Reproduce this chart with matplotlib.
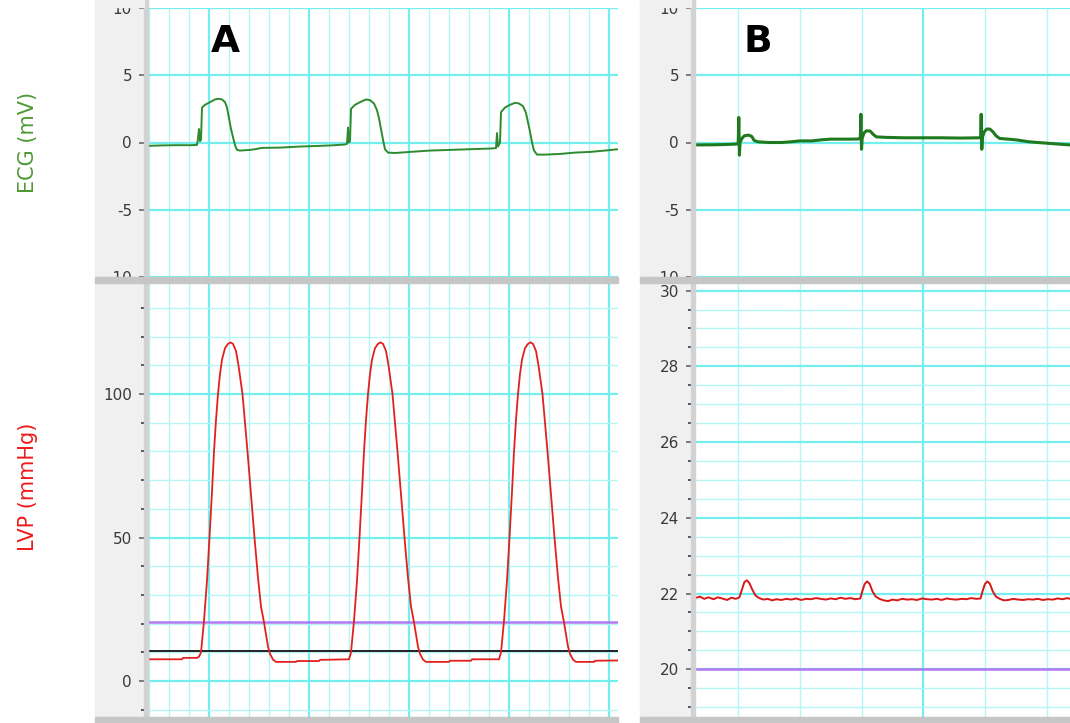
import matplotlib
matplotlib.use('Agg')
import matplotlib.pyplot as plt
from matplotlib.patches import Rectangle
from matplotlib.ticker import MultipleLocator, FixedLocator

plt.rcParams['axes.unicode_minus'] = False

# ---- panel A (time in ms) ----
ecgA_t = [-61, -49, -34, -19, -12, -11, -10, -9, -8, -7, -4, 1, 6, 10, 13, 16, 18, 20, 22, 24,
          26, 28, 31, 41, 46, 53, 71, 91, 111, 126, 136, 138, 139, 140, 141, 142, 146, 151, 157,
          161, 165, 168, 170, 172, 174, 176, 179, 186, 201, 221, 241, 261, 281, 287, 288, 289,
          291, 292, 296, 301, 306, 310, 314, 317, 319, 321, 323, 325, 328, 336, 351, 366, 381,
          396, 409]
ecgA_mv = [-0.25, -0.22, -0.2, -0.2, -0.18, 0.3, 1.0, 0.1, 0.2, 2.6, 2.8, 3.0, 3.2, 3.25, 3.2,
           3.0, 2.6, 1.8, 1.0, 0.4, -0.2, -0.55, -0.6, -0.55, -0.5, -0.4, -0.38, -0.3, -0.25,
           -0.2, -0.15, -0.1, 1.1, 0.0, 0.1, 2.5, 2.8, 3.0, 3.2, 3.15, 2.9, 2.4, 1.8, 1.0, 0.2,
           -0.5, -0.75, -0.78, -0.7, -0.6, -0.55, -0.5, -0.45, -0.42, 0.7, -0.3, 0.0, 2.25, 2.6,
           2.8, 2.95, 2.9, 2.7, 2.2, 1.5, 0.8, 0.0, -0.6, -0.9, -0.9, -0.85, -0.75, -0.7, -0.6,
           -0.5]

lvpA_t = [-61, -40, -27, -26, -12, -10, -8, -5, -2, 0.5, 3, 5, 7, 9, 11, 13, 16, 19, 21.5, 24,
          27, 29.5, 33.5, 36, 38.5, 42, 45.5, 49, 52, 55, 59, 61, 64, 67, 87, 88, 110, 111, 140,
          142, 145, 148, 150.5, 153, 155, 157, 159, 161, 163, 166, 169, 171.5, 174, 177, 179.5,
          183.5, 186, 188.5, 192, 195.5, 199, 202, 205, 209, 211, 214, 217, 240, 241, 262, 263,
          290, 292, 295, 298, 300.5, 303, 305, 307, 309, 311, 313, 316, 319, 321.5, 324, 327,
          329.5, 333.5, 336, 338.5, 342, 345.5, 349, 352, 355, 359, 361, 364, 367, 385, 386, 409]
lvpA_mmhg = [7.6, 7.6, 7.6, 8.1, 8.1, 8.5, 10, 21, 35, 50, 66, 80, 91, 100, 107, 112, 116, 117.5,
             118, 117.5, 115, 110, 100, 90, 80, 65, 50, 36, 26, 20.5, 12, 9.5, 7.5, 6.7, 6.7, 7.0,
             7.0, 7.4, 7.6,
             10, 21, 35, 50, 66, 80, 91, 100, 107, 112, 116, 117.5, 118, 117.5, 115, 110, 100, 90,
             80, 65, 50, 36, 26, 20.5, 12, 9.5, 7.5, 6.7, 6.7, 7.1, 7.1, 7.6, 7.6,
             10, 21, 35, 50, 66, 80, 91, 100, 107, 112, 116, 117.5, 118, 117.5, 115, 110, 100, 90,
             80, 65, 50, 36, 26, 20.5, 12, 9.5, 7.5, 6.7, 6.7, 7.1, 7.2]
purpleA = 20.5
blackA = 10.4

# ---- panel B (time in ms) ----
ecgB_t = [-370, -340, -320, -305, -300, -299, -298, -297, -294, -290, -283, -278, -274, -268,
          -250, -230, -215, -200, -180, -165, -150, -120, -105, -102, -101, -100, -99, -96, -92,
          -86, -81, -76, -60, -30, 0, 30, 60, 90, 93, 94, 95, 96, 99, 103, 108, 113, 118, 124,
          150, 172, 200, 220, 238]
ecgB_mv = [-0.18, -0.17, -0.15, -0.12, -0.1, 1.86, -0.94, 0.0, 0.3, 0.5, 0.55, 0.45, 0.15, 0.05,
           0.0, 0.0, 0.05, 0.12, 0.12, 0.2, 0.25, 0.25, 0.26, 0.28, 2.1, -0.5, 0.3, 0.7, 0.87,
           0.85, 0.6, 0.42, 0.38, 0.35, 0.35, 0.35, 0.33, 0.35, 0.35, 2.1, -0.5, 0.4, 0.8, 1.0,
           1.0, 0.8, 0.5, 0.3, 0.2, 0.05, -0.05, -0.12, -0.18]

lvpB_t = [-370, -362, -355, -348, -340, -333, -326, -318, -311, -304, -298, -294, -290, -286,
          -282, -277, -272, -266, -259, -252, -245, -238, -230, -222, -214, -206, -198, -190,
          -182, -174, -166, -158, -150, -142, -134, -126, -118, -110, -102, -99, -95, -91, -87,
          -82, -77, -71, -64, -57, -50, -42, -34, -26, -18, -10, -2, 6, 14, 22, 30, 38, 46, 54,
          62, 70, 78, 86, 93, 96, 100, 104, 108, 113, 118, 124, 131, 138, 146, 154, 162, 170,
          178, 186, 194, 202, 210, 218, 226, 234, 238]
lvpB_mmhg = [21.88, 21.92, 21.86, 21.9, 21.85, 21.9, 21.87, 21.83, 21.89, 21.86, 21.9, 22.1,
             22.3, 22.35, 22.28, 22.1, 21.95, 21.88, 21.84, 21.86, 21.82, 21.85, 21.83, 21.86,
             21.84, 21.87, 21.83, 21.86, 21.85, 21.88, 21.86, 21.84, 21.87, 21.85, 21.89, 21.86,
             21.88, 21.85, 21.87, 22.05, 22.25, 22.32, 22.26, 22.05, 21.92, 21.86, 21.82, 21.8,
             21.84, 21.82, 21.86, 21.84, 21.85, 21.83, 21.87, 21.85, 21.84, 21.86, 21.83, 21.87,
             21.85, 21.84, 21.86, 21.85, 21.88, 21.86, 21.87, 22.05, 22.25, 22.32, 22.26, 22.05,
             21.92, 21.86, 21.82, 21.83, 21.86, 21.84, 21.83, 21.85, 21.84, 21.86, 21.83, 21.85,
             21.84, 21.87, 21.85, 21.88, 21.86]
purpleB = 20.0

W, H = 1070, 723
GRID_MAJ = '#74eeee'
GRID_MIN = '#b6f5f5'
STRIP = '#f0f0f0'
BAR = '#c6c6c6'
DIV = '#d2d2d2'

fig = plt.figure(figsize=(W / 100, H / 100), dpi=100)


def box(x0, x1, y0, y1):
    # pixel box (top-left origin) -> figure fraction rect
    return [x0 / W, 1 - y1 / H, (x1 - x0) / W, (y1 - y0) / H]


def style(ax, xmaj, xmin, ymaj, ymin=None):
    for s in ax.spines.values():
        s.set_visible(False)
    ax.set_axisbelow(True)
    ax.xaxis.set_major_locator(MultipleLocator(xmaj))
    ax.xaxis.set_minor_locator(MultipleLocator(xmin))
    ax.yaxis.set_major_locator(FixedLocator(ymaj))
    if ymin is not None:
        ax.yaxis.set_minor_locator(FixedLocator(ymin))
    ax.grid(which='major', color=GRID_MAJ, lw=1.6)
    ax.grid(which='minor', color=GRID_MIN, lw=1.0)
    ax.tick_params(axis='x', which='both', length=0, labelbottom=False)
    ax.tick_params(axis='y', which='major', length=6.5, width=1.2, color='#666666',
                   pad=5, labelsize=11, labelcolor='#3a3a3a')
    ax.tick_params(axis='y', which='minor', length=4.8, width=1.4, color='#555555')


# strips and panel geometry (pixels)
panels = {'A': (95, 148, 618), 'B': (640, 695, 1070)}
ecg_y = (8, 277)
lvp_y = (283, 717)

for key, (sx, px0, px1) in panels.items():
    fig.add_artist(Rectangle((sx / W, 0), (px0 - sx) / W, 1, transform=fig.transFigure,
                             color=STRIP, zorder=-5))

# panel A
axA1 = fig.add_axes(box(148, 618, *ecg_y))
axA1.plot(ecgA_t, ecgA_mv, color='#2e8a2e', lw=1.4)
axA1.set_xlim(-61, 409)
axA1.set_ylim(-10, 10)
style(axA1, 100, 20, [-10, -5, 0, 5, 10])
axA1.text(0.165, 0.875, 'A', transform=axA1.transAxes, fontsize=27, fontweight='bold',
          ha='center', va='center', color='black')

axA2 = fig.add_axes(box(148, 618, *lvp_y))
axA2.axhline(purpleA, color='#b27af2', lw=1.8)
axA2.axhline(blackA, color='#111111', lw=1.3)
axA2.plot(lvpA_t, lvpA_mmhg, color='#e3201e', lw=1.3)
axA2.set_xlim(-61, 409)
axA2.set_ylim(-12.5, 138.7)
style(axA2, 100, 20, [0, 50, 100], [-10, 10, 20, 30, 40, 60, 70, 80, 90, 110, 120, 130])

# panel B
axB1 = fig.add_axes(box(695, 1070, *ecg_y))
axB1.plot(ecgB_t, ecgB_mv, color='#1f7a1f', lw=2.2)
axB1.set_xlim(-370, 238)
axB1.set_ylim(-10, 10)
style(axB1, 500, 100, [-10, -5, 0, 5, 10])
axB1.text(0.168, 0.875, 'B', transform=axB1.transAxes, fontsize=27, fontweight='bold',
          ha='center', va='center', color='black')

axB2 = fig.add_axes(box(695, 1070, *lvp_y))
axB2.axhline(purpleB, color='#b27af2', lw=1.8)
axB2.plot(lvpB_t, lvpB_mmhg, color='#d81818', lw=1.4)
axB2.set_xlim(-370, 238)
axB2.set_ylim(18.74, 30.2)
minB = [18.5 + 0.5 * i for i in range(25)]
style(axB2, 500, 100, [20, 22, 24, 26, 28, 30], [v for v in minB if v % 2 != 0])

# dividers, gray bars and top cut drawn on top
for key, (sx, px0, px1) in panels.items():
    fig.add_artist(Rectangle(((px0 - 4) / W, 0), 4 / W, 1, transform=fig.transFigure,
                             color=DIV, zorder=5))
    fig.add_artist(Rectangle((sx / W, 1 - 7 / H), (px0 - 4 - sx) / W, 7 / H,
                             transform=fig.transFigure, color=STRIP, zorder=5))
    for y0 in (277, 717):
        fig.add_artist(Rectangle((sx / W, 1 - (y0 + 6) / H), (px1 - sx) / W, 6 / H,
                                 transform=fig.transFigure, color=BAR, zorder=5))

fig.text(28 / W, 1 - 142 / H, 'ECG (mV)', rotation=90, color='#4f9a35', fontsize=15,
         ha='center', va='center')
fig.text(28 / W, 1 - 487 / H, 'LVP (mmHg)', rotation=90, color='#ee1c1c', fontsize=15,
         ha='center', va='center')

fig.savefig('out.png', dpi=100)
